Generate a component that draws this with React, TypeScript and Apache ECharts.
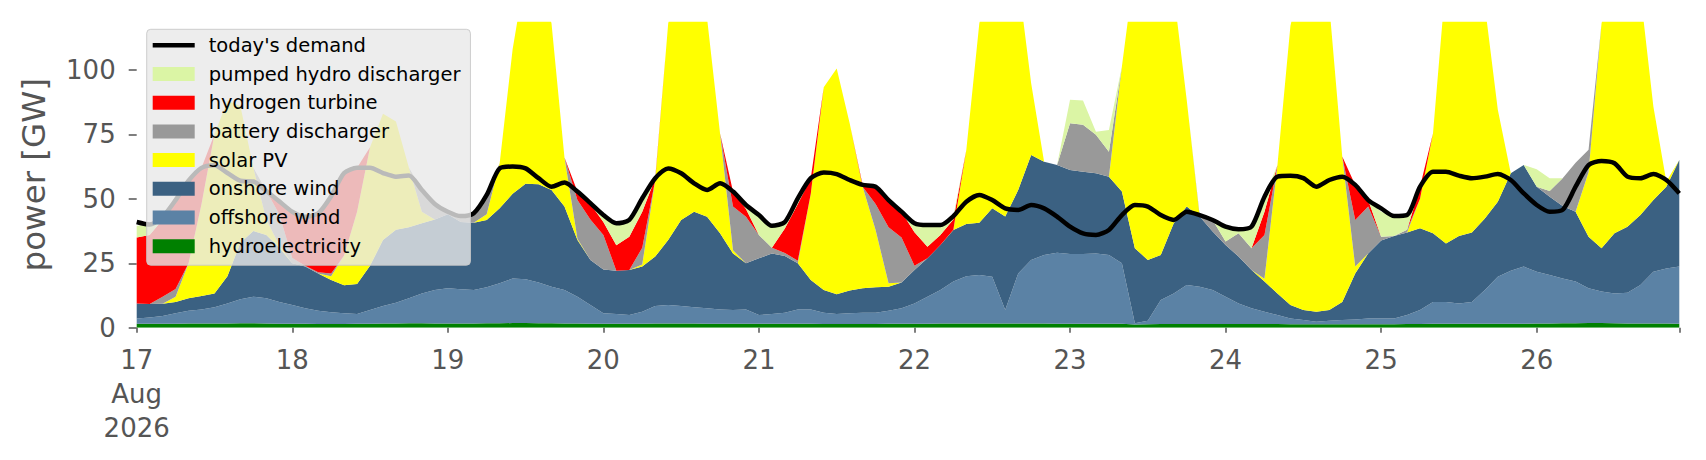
import { useEffect, useRef } from "react";
import * as echarts from "echarts";

// hours since 17 Aug 2026 00:00 (2-hourly samples)
const hours = [
  0, 2, 4, 6, 8, 10, 12, 14, 16, 18, 20, 22,
  24, 26, 28, 30, 32, 34, 36, 38, 40, 42, 44, 46,
  48, 50, 52, 54, 56, 58, 60, 62, 64, 66, 68, 70,
  72, 74, 76, 78, 80, 82, 84, 86, 88, 90, 92, 94,
  96, 98, 100, 102, 104, 106, 108, 110, 112, 114, 116, 118,
  120, 122, 124, 126, 128, 130, 132, 134, 136, 138, 140, 142,
  144, 146, 148, 150, 152, 154, 156, 158, 160, 162, 164, 166,
  168, 170, 172, 174, 176, 178, 180, 182, 184, 186, 188, 190,
  192, 194, 196, 198, 200, 202, 204, 206, 208, 210, 212, 214,
  216, 218, 220, 222, 224, 226, 228, 230, 232, 234, 236, 238,
];

const dayLabels = ["17\nAug\n2026", "18", "19", "20", "21", "22", "23", "24", "25", "26"];
const yTicks = [0, 25, 50, 75, 100];

const hydroelectricity = [
  1.5, 1.5, 1.5, 1.5, 1.6, 1.6, 1.6, 1.6, 1.7, 1.7, 1.6, 1.5,
  1.5, 1.5, 1.4, 1.4, 1.4, 1.5, 1.5, 1.6, 1.6, 1.7, 1.7, 1.6,
  1.6, 1.6, 1.6, 1.7, 1.7, 1.8, 1.8, 1.7, 1.7, 1.6, 1.6, 1.5,
  1.5, 1.5, 1.5, 1.5, 1.6, 1.6, 1.6, 1.6, 1.5, 1.5, 1.5, 1.5,
  1.5, 1.5, 1.5, 1.5, 1.5, 1.4, 1.4, 1.4, 1.4, 1.4, 1.5, 1.5,
  1.5, 1.5, 1.6, 1.6, 1.6, 1.6, 1.6, 1.6, 1.6, 1.6, 1.6, 1.5,
  1.5, 1.5, 1.5, 1.5, 1.5, 1.2, 1.3, 1.4, 1.4, 1.4, 1.4, 1.4,
  1.4, 1.4, 1.4, 1.4, 1.4, 1.3, 1.3, 1.3, 1.3, 1.3, 1.3, 1.3,
  1.3, 1.3, 1.4, 1.4, 1.5, 1.5, 1.5, 1.5, 1.5, 1.5, 1.5, 1.5,
  1.6, 1.6, 1.7, 1.7, 1.8, 1.8, 1.7, 1.6, 1.6, 1.6, 1.6, 1.5,
];

const offshoreWind = [
  2.1, 2.5, 3.0, 4.1, 5.0, 5.5, 6.3, 7.8, 9.3, 10.3, 9.8, 8.5,
  7.3, 6.0, 5.2, 4.6, 4.2, 3.8, 5.4, 6.8, 8.1, 9.7, 11.6, 13.0,
  13.7, 13.3, 13.0, 14.0, 15.5, 17.3, 17.0, 15.8, 14.2, 13.0, 10.4, 7.3,
  4.1, 3.8, 3.4, 4.7, 6.8, 7.2, 6.8, 6.3, 6.0, 5.6, 5.4, 5.6,
  3.4, 3.8, 4.3, 5.6, 5.6, 4.4, 3.9, 4.2, 4.4, 4.4, 5.1, 6.0,
  7.9, 10.5, 13.0, 16.3, 18.4, 18.8, 18.2, 5.3, 19.4, 24.7, 26.6, 27.6,
  27.1, 27.1, 27.3, 26.7, 23.5, 0.5, 1.4, 9.3, 11.9, 15.2, 14.5, 13.2,
  10.6, 8.0, 6.1, 4.8, 3.5, 2.3, 1.7, 1.0, 1.4, 1.7, 1.9, 2.3,
  2.3, 2.3, 3.5, 5.5, 8.5, 8.5, 7.9, 8.5, 13.1, 18.3, 20.6, 22.2,
  20.1, 18.8, 17.4, 16.2, 13.5, 12.2, 11.6, 12.0, 15.0, 20.1, 21.4, 22.2,
];

const onshoreWind = [
  5.8, 5.2, 4.8, 4.4, 4.8, 5.2, 5.4, 10.6, 22.0, 25.5, 24.6, 21.0,
  16.2, 16.2, 14.4, 12.5, 10.9, 11.7, 17.1, 25.6, 28.3, 27.6, 27.2, 27.4,
  28.7, 26.1, 26.1, 26.1, 29.1, 32.9, 37.0, 38.1, 37.5, 32.4, 22.0, 17.5,
  17.0, 16.8, 17.5, 17.5, 19.2, 25.2, 33.4, 37.1, 35.5, 29.5, 21.9, 17.9,
  22.0, 23.5, 22.0, 17.9, 11.4, 8.8, 7.7, 8.8, 9.5, 9.9, 9.3, 10.0,
  13.0, 14.9, 17.5, 20.0, 20.2, 20.3, 26.5, 36.2, 32.4, 40.7, 36.2, 34.0,
  32.6, 31.9, 31.1, 30.4, 27.8, 29.1, 23.6, 17.5, 27.2, 30.4, 27.2, 22.7,
  20.1, 18.2, 14.9, 11.7, 8.4, 5.2, 3.9, 3.9, 4.2, 7.0, 17.8, 25.2,
  30.2, 32.0, 32.0, 31.7, 26.6, 22.7, 26.2, 26.9, 27.8, 29.1, 37.8, 39.4,
  33.0, 30.4, 28.1, 27.1, 20.0, 16.8, 23.3, 25.6, 27.1, 27.8, 31.7, 41.4,
];

const solarPV = [
  0, 0, 0, 2, 13.6, 35.7, 61.7, 68, 53, 24.5, 6, 1,
  0, 0, 0, 1.5, 11.5, 28, 46, 49, 42, 23, 4.5, 0,
  0, 0, 0, 2.2, 17.5, 56, 82.2, 84.4, 64.6, 19, 0.5, 0,
  0, 0, 0, 0.8, 29.7, 84, 98.2, 95, 77, 38.8, 1.2, 0,
  0, 0, 0, 0, 33.5, 78.7, 87.5, 64.9, 39.4, 22.2, 1.3, 0,
  0, 0, 0, 0.1, 28.8, 77.3, 93.7, 96.9, 81.6, 27.8, 0, 0,
  0, 0, 0, 0, 48.5, 109.2, 118.7, 116.8, 89.5, 41.4, 0, 0,
  0, 0, 0, 1.1, 49.8, 108.2, 133.1, 133.8, 118.1, 56.4, 2.7, 0,
  0, 0, 0, 11.4, 38.8, 102.3, 109.4, 108.1, 82.6, 35.6, 0, 0,
  0, 0, 0, 0, 25, 87.2, 103.4, 100.8, 86.3, 36.3, 2, 0,
];

const batteryDischarger = [
  0, 0, 2.7, 3, 0, 0, 0, 0, 0, 0, 11, 12,
  2, 0.3, 0.5, 1, 0, 0, 0, 0, 0, 0, 8.4, 6,
  1, 2.3, 3.7, 7.5, 0, 0, 0, 0, 0, 0, 15, 15.7,
  13.4, 0, 0, 6.5, 0, 0, 0, 0, 0, 0, 17, 18,
  9.1, 2.2, 1.2, 1, 0, 0, 0, 0, 0, 10.1, 21.8, 17.5,
  1.6, 0, 0, 0, 0, 0, 0, 0, 0, 0, 0, 0,
  18.1, 18.2, 14.9, 9.7, 0, 0, 0, 0, 0, 0, 0.6, 4.5,
  1.3, 9, 8.4, 17, 0, 0, 0, 0, 0, 0, 18.1, 18.2,
  1.5, 0, 1.1, 0, 0, 0, 0, 0, 0, 0, 0, 0,
  0, 2.2, 10.8, 19, 8.7, 0, 0, 0, 0, 0, 0, 0,
];

const hydrogenTurbine = [
  25.6, 26.8, 30, 34, 32, 14, 0, 0, 0, 0, 0, 5,
  18, 19, 22.9, 30, 32, 17, 0, 0, 0, 0, 0, 0,
  0, 0, 0, 0, 0, 0, 0, 0, 0, 0, 3.3, 6,
  5, 9.9, 12.9, 14, 0.7, 0, 0, 0, 0, 0, 5.8, 3,
  0, 0, 9.5, 22, 6, 0, 0, 0, 0.7, 6.7, 10.5, 10,
  13, 4.5, 3.9, 4, 0, 0, 0, 0, 0, 0, 0, 0,
  0, 0, 0, 0, 0, 0, 0, 0, 0, 0, 0, 0,
  0, 0, 0, 9, 0, 0, 0, 0, 0, 0, 13.6, 2.5,
  0, 0, 0, 4.7, 0, 0, 0, 0, 0, 0, 0, 0,
  0, 0, 0, 0, 0, 0, 0, 0, 0, 0, 0, 0,
];

const pumpedHydroDischarger = [
  4.5, 4, 1, 0.5, 0, 0, 0, 0, 0, 0, 0, 0,
  0, 0, 0, 0, 0, 0, 0, 0, 0, 0, 0, 0,
  0, 0, 0, 0, 0, 0, 0, 0, 0, 0, 0, 0.3,
  2.7, 8.5, 6.5, 5.2, 0, 0, 0, 0, 0, 0, 0, 1.6,
  7.7, 8.5, 2.5, 2.2, 0, 0, 0, 0, 0, 0, 0, 0,
  3.5, 8.4, 3.8, 1.3, 0, 0, 0, 0, 0, 0, 0, 0,
  9.1, 9.4, 1.2, 8.4, 0, 0, 0, 0, 0, 0, 0, 0,
  5.8, 1.6, 8.4, 5.8, 0, 0, 0, 0, 0, 0, 0, 0,
  9.7, 7.5, 5.5, 0, 0, 0, 0, 0, 0, 0, 0, 0,
  6.8, 5, 0, 0, 0, 0, 0, 0, 0, 0, 0, 0,
];

const todaysDemand = [
  41, 40, 43, 49.5, 57, 62, 63, 60, 57, 56.7, 53, 49,
  45, 43, 44.4, 51, 60, 62, 62, 60, 58.6, 59, 53.4, 48,
  45, 43.3, 44.4, 51.5, 61.8, 62.5, 61.8, 58, 54.7, 56.3, 52.8, 48.3,
  43.7, 40.5, 41.8, 50.2, 58, 61.8, 59.9, 56, 53.4, 56, 52.8, 47.6,
  43.7, 39.5, 41, 50.2, 58, 60.2, 59.6, 57.3, 55.4, 54.7, 49.5, 45,
  40.5, 39.8, 39.8, 43.3, 48.9, 51.5, 49.5, 46.3, 45.7, 47.6, 46.3, 43.1,
  39.2, 36.6, 36, 37.9, 43.7, 47.6, 47, 43.7, 41.8, 45, 43.7, 41.8,
  39.2, 38.2, 39.2, 50.8, 58.6, 58.9, 58, 54.7, 57.3, 58.6, 55.4, 49.5,
  46.3, 43.3, 43.7, 54.7, 60.5, 60.5, 59, 58, 58.6, 59.6, 57.3, 52.1,
  47.6, 45, 45.7, 54.7, 63.1, 64.7, 63.8, 58.6, 58, 59.6, 57.3, 52.1,
];

const FONT = "DejaVu Sans";

export default function App() {
  const ref = useRef<HTMLDivElement>(null);

  useEffect(() => {
    const chart = echarts.init(ref.current!, null, { renderer: "svg" });
    const lastIdx = hours.length - 1;
    const isDayStart = (i: number) => hours[i] % 24 === 0;

    const layers = [
      { name: "hydroelectricity", data: hydroelectricity, color: "#008000" },
      { name: "offshore wind", data: offshoreWind, color: "#5b82a5" },
      { name: "onshore wind", data: onshoreWind, color: "#3b6182" },
      { name: "solar PV", data: solarPV, color: "#ffff00" },
      { name: "battery discharger", data: batteryDischarger, color: "#999999" },
      { name: "hydrogen turbine", data: hydrogenTurbine, color: "#ff0000" },
      { name: "pumped hydro discharger", data: pumpedHydroDischarger, color: "#dbf5a5" },
    ];

    const areaSeries = layers.map((l) => ({
      type: "line",
      name: l.name,
      stack: "gen",
      data: l.data,
      symbol: "none",
      showSymbol: false,
      lineStyle: { width: 0 },
      itemStyle: { color: l.color },
      areaStyle: { color: l.color, opacity: 1 },
      z: 2,
      clip: true,
    }));

    const legendNames = [
      "today's demand",
      "pumped hydro discharger",
      "hydrogen turbine",
      "battery discharger",
      "solar PV",
      "onshore wind",
      "offshore wind",
      "hydroelectricity",
    ];

    chart.setOption({
      animation: false,
      backgroundColor: "#ffffff",
      textStyle: { fontFamily: FONT },
      grid: {
        left: 128.7,
        top: 13.7,
        width: 1542.6,
        height: 306,
        containLabel: false,
        outerBoundsMode: "none",
      },
      legend: {
        orient: "vertical",
        left: 138.7,
        top: 21.3,
        z: 10,
        padding: [6, 10, 9, 6],
        itemGap: 8.7,
        itemWidth: 42,
        itemHeight: 14,
        backgroundColor: "rgba(232,232,232,0.8)",
        borderColor: "rgba(200,200,200,0.9)",
        borderWidth: 1,
        borderRadius: 4,
        selectedMode: false,
        textStyle: {
          fontFamily: FONT,
          fontSize: 19.5,
          color: "#000000",
          lineHeight: 20,
          padding: [0, 0, 0, 9],
        },
        data: legendNames.map((n) =>
          n === "today's demand"
            ? { name: n, icon: "path://M0,0 L42,0 L42,4.5 L0,4.5 Z" }
            : { name: n, icon: "rect" }
        ),
      },
      xAxis: {
        type: "category",
        boundaryGap: false,
        data: hours.map(String),
        axisLine: { show: false },
        splitLine: { show: false },
        axisTick: {
          show: true,
          interval: (i: number) => isDayStart(i) || i === lastIdx,
          length: 5,
          lineStyle: { color: "#555555", width: 1.5 },
        },
        axisLabel: {
          interval: (i: number) => isDayStart(i),
          formatter: (_v: string, i: number) => dayLabels[hours[i] / 24] ?? "",
          fontFamily: FONT,
          fontSize: 26,
          lineHeight: 34,
          color: "#555555",
          margin: 15,
        },
      },
      yAxis: {
        type: "value",
        min: 0,
        max: 118.7,
        name: "power [GW]",
        nameLocation: "middle",
        nameGap: 86,
        nameTextStyle: { fontFamily: FONT, fontSize: 32.5, color: "#555555" },
        axisLine: { show: false },
        splitLine: { show: false },
        axisTick: {
          show: true,
          customValues: yTicks,
          length: 8,
          lineStyle: { color: "#555555", width: 1.5 },
        },
        axisLabel: {
          customValues: yTicks,
          fontFamily: FONT,
          fontSize: 26,
          color: "#555555",
          margin: 21,
        },
      },
      series: [
        ...areaSeries,
        {
          type: "line",
          name: "today's demand",
          data: todaysDemand,
          symbol: "none",
          showSymbol: false,
          smooth: 0.25,
          lineStyle: { color: "#000000", width: 4.5 },
          itemStyle: { color: "#000000" },
          z: 3,
          clip: true,
        },
      ],
    });

    return () => chart.dispose();
  }, []);

  return <div ref={ref} style={{ width: 1690, height: 444 }} />;
}
